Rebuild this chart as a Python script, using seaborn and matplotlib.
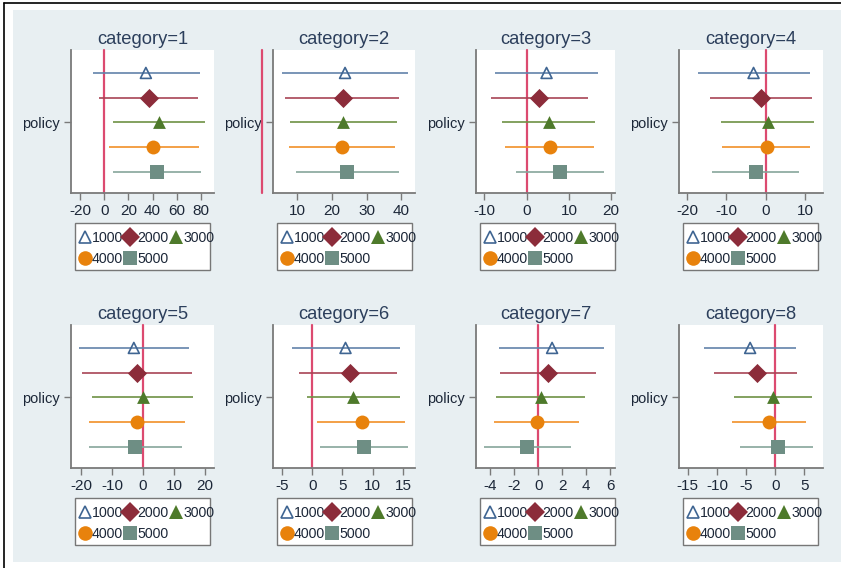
import matplotlib
matplotlib.use("Agg")
import matplotlib.pyplot as plt
from matplotlib.lines import Line2D
from matplotlib.patches import Rectangle
from matplotlib.ticker import MultipleLocator
import pandas as pd
import seaborn as sns

# ---- data -------------------------------------------------------------
categories = [1, 2, 3, 4, 5, 6, 7, 8]
groups = ["1000", "2000", "3000", "4000", "5000"]

est_1000 = [34.5, 23.8, 4.7, -3.1, -3.0, 5.5, 1.15, -4.3]
lo_1000 = [-9.7, 5.6, -7.5, -17.2, -20.6, -3.4, -3.3, -12.2]
hi_1000 = [79.0, 41.8, 16.8, 11.3, 14.7, 14.5, 5.5, 3.6]

est_2000 = [36.7, 23.1, 3.0, -1.1, -1.9, 6.2, 0.84, -3.2]
lo_2000 = [-4.1, 6.5, -8.4, -14.1, -19.7, -2.2, -3.2, -10.5]
hi_2000 = [77.8, 39.4, 14.4, 11.8, 15.8, 14.1, 4.8, 3.7]

est_3000 = [45.5, 23.3, 5.3, 0.5, 0.0, 6.8, 0.2, -0.4]
lo_3000 = [6.9, 7.9, -5.9, -11.4, -16.5, -0.8, -3.5, -7.1]
hi_3000 = [83.3, 38.8, 16.1, 12.2, 16.2, 14.5, 3.9, 6.3]

est_4000 = [40.6, 23.0, 5.5, 0.3, -1.9, 8.2, -0.14, -1.1]
lo_4000 = [4.1, 7.7, -5.1, -11.1, -17.6, 0.8, -3.7, -7.4]
hi_4000 = [78.3, 38.1, 15.9, 11.2, 13.5, 15.4, 3.4, 5.3]

est_5000 = [43.9, 24.5, 7.9, -2.5, -2.5, 8.6, -0.92, 0.4]
lo_5000 = [7.4, 9.6, -2.5, -13.6, -17.4, 1.2, -4.5, -6.0]
hi_5000 = [80.0, 39.4, 18.3, 8.5, 12.4, 15.8, 2.7, 6.5]

series = {
    "1000": (est_1000, lo_1000, hi_1000),
    "2000": (est_2000, lo_2000, hi_2000),
    "3000": (est_3000, lo_3000, hi_3000),
    "4000": (est_4000, lo_4000, hi_4000),
    "5000": (est_5000, lo_5000, hi_5000),
}

rows = []
for g_i, g in enumerate(groups):
    est, lo, hi = series[g]
    for c_i, c in enumerate(categories):
        rows.append(dict(category=c, group=g, pos=g_i - 2,
                         est=est[c_i], lo=lo[c_i], hi=hi[c_i]))
df = pd.DataFrame(rows)

# ---- style ------------------------------------------------------------
sns.set_theme(style="white")
plt.rcParams["font.family"] = ["Liberation Sans", "DejaVu Sans"]
plt.rcParams["axes.unicode_minus"] = False

marker_color = {"1000": "#3f6592", "2000": "#8c2c3a", "3000": "#4e7a2b",
                "4000": "#e8820c", "5000": "#6e8e84"}
line_color = {"1000": "#6283aa", "2000": "#a84455", "3000": "#6e9144",
              "4000": "#f19027", "5000": "#86a59b"}
marker_shape = {"1000": "^", "2000": "D", "3000": "^", "4000": "o", "5000": "s"}
marker_size = {"1000": 62, "2000": 95, "3000": 85, "4000": 100, "5000": 105}
hollow = {"1000": True}

BG = "#e8eff2"
TEXT = "#1c2738"
TITLE = "#2c3f5c"
AXIS = "#7a7a7a"
REF = "#dc4a70"

W, H = 841, 568
fig = plt.figure(figsize=(W / 100, H / 100), dpi=100)
fig.patch.set_facecolor("white")
fig.patches.append(Rectangle((13 / W, 1 - 562 / H), (W - 13) / W, (562 - 10) / H,
                             transform=fig.transFigure, facecolor=BG,
                             edgecolor="none", zorder=-5))
fig.add_artist(Line2D([3.5 / W, 1], [1 - 2.5 / H, 1 - 2.5 / H],
                      transform=fig.transFigure, color="black", lw=1.2))
fig.add_artist(Line2D([3.5 / W, 3.5 / W], [0, 1 - 2.5 / H],
                      transform=fig.transFigure, color="black", lw=1.2))

col_px = [(71, 214), (273, 415), (476, 615), (679, 823)]
row_px = [(50, 193), (325, 468)]
xlims = [(-27.6, 91), (3.1, 43.9), (-12.0, 20.9), (-22.1, 14.6),
         (-23.3, 22.9), (-6.5, 17.0), (-5.2, 6.4), (-16.5, 8.2)]
xsteps = [20, 10, 10, 10, 10, 5, 2, 5]

for k, cat in enumerate(categories):
    r, c = divmod(k, 4)
    x0, x1 = col_px[c]
    y0, y1 = row_px[r]
    aw, ah = x1 - x0, y1 - y0
    ax = fig.add_axes([x0 / W, 1 - y1 / H, aw / W, ah / H])
    ax.set_facecolor("white")
    sub = df[df["category"] == cat]

    ax.axvline(0, color=REF, lw=1.6, zorder=1, clip_on=False)

    for g in groups:
        d = sub[sub["group"] == g]
        ax.hlines(d["pos"], d["lo"], d["hi"], color=line_color[g], lw=1.2, zorder=2)
        kws = dict(color=marker_color[g], marker=marker_shape[g], s=marker_size[g],
                   linewidth=0, zorder=3, legend=False, ax=ax)
        if hollow.get(g):
            kws.update(facecolor="none", edgecolor=marker_color[g], linewidth=1.2)
        sns.scatterplot(data=d, x="est", y="pos", label=g, **kws)

    ax.set_xlim(*xlims[k])
    ax.set_ylim(2.87, -2.93)
    ax.xaxis.set_major_locator(MultipleLocator(xsteps[k]))
    ax.set_yticks([0])
    ax.set_yticklabels(["policy"])
    ax.set_xlabel("")
    ax.set_ylabel("")
    ax.set_title(f"category={cat}", fontsize=13.2, color=TITLE, pad=4)

    for side in ("top", "right"):
        ax.spines[side].set_visible(False)
    for side in ("left", "bottom"):
        ax.spines[side].set_color(AXIS)
        ax.spines[side].set_linewidth(1.3)
    ax.tick_params(axis="x", direction="out", length=5, width=1, color=AXIS,
                   labelsize=11, labelcolor=TEXT, pad=3, bottom=True)
    ax.tick_params(axis="y", direction="out", length=5, width=1, color=AXIS,
                   labelsize=10.5, labelcolor=TEXT, pad=3, left=True)

    # legend box (drawn separately so the labels can run up to its edge)
    ax.add_patch(Rectangle((4 / aw, -77 / ah), 135 / aw, 47 / ah,
                           transform=ax.transAxes, clip_on=False,
                           facecolor="white", edgecolor="#777777", lw=1.0,
                           zorder=4))

    # legend: two rows, 1000/2000/3000 then 4000/5000
    handles = []
    for g in groups:
        if hollow.get(g):
            h = Line2D([], [], ls="none", marker=marker_shape[g], markersize=9,
                       markerfacecolor="none", markeredgecolor=marker_color[g],
                       markeredgewidth=1.2)
        else:
            ms = {"D": 10, "^": 10.5, "o": 10.5, "s": 10}[marker_shape[g]]
            h = Line2D([], [], ls="none", marker=marker_shape[g], markersize=ms,
                       markerfacecolor=marker_color[g], markeredgewidth=0)
        handles.append(h)
    order = [0, 3, 1, 4, 2]
    leg = ax.legend([handles[i] for i in order], [groups[i] for i in order],
                    ncol=3, loc="upper left", bbox_to_anchor=(8 / aw, -38 / ah),
                    fontsize=10.2, frameon=False, borderpad=0,
                    handlelength=0.8, handletextpad=0.12, columnspacing=0.1,
                    labelspacing=0.5, borderaxespad=0)
    leg.set_zorder(5)
    for t in leg.get_texts():
        t.set_color(TEXT)

fig.savefig("out.png", dpi=100, facecolor=fig.get_facecolor())
